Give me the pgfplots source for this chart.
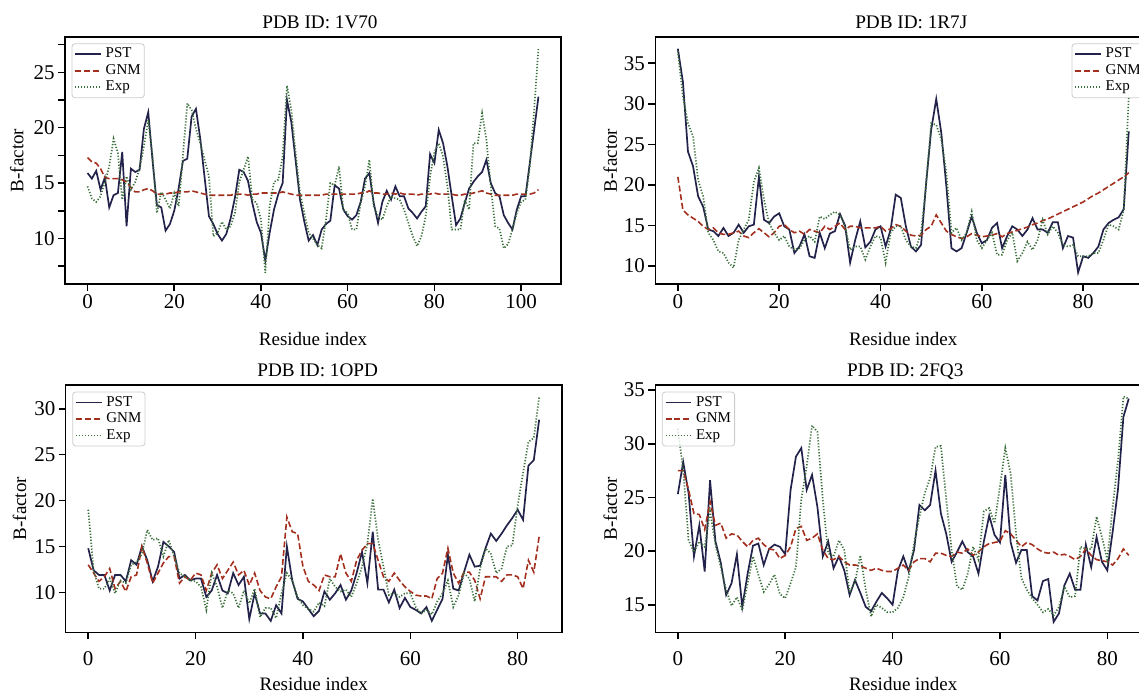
\documentclass[border=0pt]{standalone}
\usepackage{fontspec}
\setmainfont{Liberation Serif}
\usepackage{pgfplots}
\usepackage{pgfplotstable}
\pgfplotsset{compat=1.18}

\definecolor{pstcol}{HTML}{22224A}
\definecolor{gnmcol}{HTML}{A3301F}
\definecolor{expcol}{HTML}{3A6E3A}

% residue, PST, GNM, Exp
\pgfplotstableread{
i pst gnm exp
0 15.9 17.3 14.7
1 15.4 16.9 13.6
2 16.1 16.8 13.3
3 14.4 16.3 13.8
4 15.5 15.5 15.1
5 12.8 15.4 16.5
6 13.9 15.4 19.0
7 14.1 15.4 17.7
8 17.8 15.3 13.5
9 11.1 15.1 15.6
10 16.3 14.6 14.4
11 16.0 14.2 15.1
12 16.2 14.2 16.3
13 19.9 14.4 18.3
14 21.4 14.5 20.7
15 17.0 14.3 17.4
16 13.0 14.0 12.3
17 12.8 14.0 14.2
18 10.7 14.0 13.5
19 11.3 14.1 12.7
20 12.5 14.1 14.1
21 14.5 14.2 12.9
22 17.0 14.2 17.4
23 17.2 14.2 22.2
24 21.0 14.3 21.6
25 21.7 14.2 19.9
26 19.0 14.1 18.6
27 15.5 14.0 17.1
28 12.0 13.9 15.6
29 11.3 13.9 10.2
30 10.4 13.9 10.5
31 9.8 13.9 11.5
32 10.4 13.9 10.8
33 11.8 13.9 11.1
34 13.7 14.0 12.3
35 16.2 14.0 15.1
36 16.0 14.0 16.2
37 15.2 13.9 17.4
38 13.2 14.0 13.5
39 11.5 14.0 13.2
40 10.5 14.1 11.7
41 8.0 14.1 6.9
42 10.5 14.1 12.9
43 12.6 14.1 15.1
44 14.0 14.1 15.3
45 15.0 14.2 17.4
46 22.5 14.1 23.8
47 20.5 14.0 21.6
48 17.0 13.9 17.7
49 13.5 13.9 14.1
50 11.5 13.9 12.3
51 9.8 13.9 10.5
52 10.3 13.9 10.0
53 9.4 13.9 9.4
54 10.8 13.9 9.1
55 11.3 14.0 11.7
56 11.6 14.0 15.0
57 14.8 14.0 14.8
58 14.5 14.0 16.5
59 12.6 14.0 12.6
60 12.0 14.0 12.3
61 11.7 14.0 10.8
62 12.1 14.0 10.8
63 13.3 14.1 13.2
64 15.4 14.1 14.7
65 15.9 14.3 17.1
66 13.2 14.1 12.9
67 11.4 14.1 12.0
68 13.3 14.0 11.7
69 14.3 14.0 12.9
70 13.5 14.1 13.8
71 14.7 14.0 13.6
72 13.8 14.1 13.5
73 13.8 14.0 12.6
74 12.7 14.0 11.4
75 12.3 14.0 10.2
76 11.8 13.9 9.3
77 12.4 14.0 10.2
78 12.9 14.0 12.0
79 17.6 14.0 15.6
80 16.8 14.1 17.8
81 19.8 14.0 18.6
82 18.6 14.0 17.4
83 16.5 14.0 14.7
84 13.8 14.0 10.8
85 11.2 13.9 10.8
86 11.8 13.9 10.8
87 13.2 14.0 13.5
88 14.5 14.0 12.6
89 15.1 14.1 18.6
90 15.6 14.2 18.6
91 16.0 14.3 21.3
92 17.1 14.1 18.9
93 15.0 14.0 14.7
94 14.1 13.9 11.1
95 13.8 13.9 10.9
96 12.1 13.9 9.1
97 11.4 13.9 9.5
98 10.8 13.9 10.8
99 12.6 14.0 12.3
100 13.8 14.0 13.3
101 13.8 14.0 13.5
102 16.8 14.0 16.5
103 19.8 14.1 21.6
104 22.8 14.4 27.2
}\tabA

\pgfplotstableread{
i pst gnm exp
0 36.8 21.0 36.5
1 32.7 16.9 30.9
2 24.1 16.3 27.6
3 22.3 15.9 26.0
4 18.6 15.5 20.6
5 17.3 14.9 18.6
6 14.5 14.5 14.1
7 14.3 14.7 13.2
8 13.7 14.1 11.8
9 14.7 13.9 11.6
10 13.7 13.9 10.4
11 14.1 14.1 9.8
12 15.1 14.3 13.2
13 14.1 13.7 14.5
14 14.9 13.5 15.7
15 15.1 14.1 20.4
16 21.0 14.6 22.1
17 15.7 14.1 18.2
18 15.3 13.6 15.3
19 16.1 14.1 14.1
20 16.5 14.9 13.2
21 14.9 15.1 13.7
22 14.5 14.5 12.4
23 11.6 14.1 12.0
24 12.4 14.3 12.2
25 13.9 13.9 13.2
26 11.2 14.5 13.7
27 11.0 14.3 13.0
28 14.1 14.1 16.1
29 12.2 14.9 15.8
30 14.0 14.5 16.3
31 14.3 14.9 16.7
32 16.4 15.3 16.3
33 15.0 14.5 14.9
34 10.4 14.9 12.0
35 13.2 14.9 12.4
36 15.5 14.7 12.4
37 12.3 14.7 10.8
38 13.0 14.7 12.4
39 14.5 14.7 13.7
40 14.9 14.9 13.5
41 12.4 14.3 10.4
42 14.5 14.6 14.1
43 18.8 15.1 14.9
44 18.4 14.9 14.9
45 14.9 14.3 13.2
46 12.4 13.8 12.4
47 11.8 13.7 12.2
48 12.6 13.8 14.1
49 20.2 14.5 20.0
50 26.8 14.9 27.6
51 30.6 16.3 27.4
52 26.4 15.3 25.6
53 19.8 14.3 21.5
54 12.2 13.9 14.1
55 11.8 13.6 14.7
56 12.2 13.4 13.2
57 14.1 13.6 14.1
58 16.1 14.0 16.7
59 14.1 13.8 13.2
60 12.8 13.6 12.2
61 13.2 13.7 13.2
62 14.7 13.8 14.1
63 15.3 14.0 11.4
64 12.2 13.6 11.4
65 13.7 14.0 13.2
66 14.9 14.2 14.1
67 14.5 14.4 10.6
68 13.7 14.6 11.6
69 14.5 14.8 13.0
70 15.9 15.1 12.0
71 14.5 15.3 13.2
72 14.5 15.6 15.7
73 14.1 15.8 13.9
74 15.4 16.1 14.9
75 15.4 16.4 14.1
76 12.2 16.7 12.6
77 13.7 17.0 12.4
78 13.5 17.3 12.6
79 9.2 17.6 11.2
80 11.2 17.9 11.2
81 11.0 18.3 11.2
82 11.6 18.7 11.6
83 12.4 19.0 11.6
84 14.5 19.4 13.2
85 15.3 19.8 15.1
86 15.7 20.2 14.9
87 16.0 20.6 14.5
88 17.0 21.0 16.9
89 26.6 21.5 31.0
}\tabB

\pgfplotstableread{
i pst gnm exp
0 14.8 13.0 19.0
1 12.4 12.1 12.4
2 11.9 11.2 10.4
3 11.9 11.7 10.4
4 10.2 12.6 11.5
5 11.9 10.4 9.9
6 11.9 11.2 11.3
7 11.2 10.1 11.0
8 13.5 11.7 13.0
9 13.0 11.9 13.3
10 15.0 15.0 14.2
11 13.5 13.2 16.8
12 11.2 11.0 15.7
13 12.8 12.1 15.9
14 15.5 13.2 13.9
15 15.0 13.9 15.7
16 14.4 13.9 13.9
17 11.5 11.0 12.1
18 11.9 11.7 11.7
19 11.3 11.3 11.3
20 11.5 12.1 11.2
21 11.5 11.9 10.6
22 9.5 10.2 8.1
23 10.2 12.1 12.1
24 11.9 13.0 10.6
25 10.2 11.5 8.3
26 9.9 12.4 10.2
27 12.1 13.3 9.9
28 10.8 11.9 8.3
29 11.7 12.4 10.2
30 7.1 10.8 8.8
31 9.9 12.1 10.4
32 7.7 10.2 7.3
33 7.7 9.5 8.3
34 6.9 9.3 8.3
35 8.6 10.6 7.2
36 7.7 11.7 9.9
37 15.0 18.2 12.1
38 11.3 16.6 11.3
39 9.3 16.4 9.5
40 9.0 12.8 8.6
41 8.2 11.2 8.2
42 7.4 10.8 7.9
43 8.0 10.2 8.9
44 10.1 11.9 8.5
45 9.2 11.7 11.5
46 9.9 11.7 10.6
47 10.8 14.2 10.1
48 9.2 12.1 10.3
49 10.2 11.2 9.5
50 12.1 13.5 11.0
51 14.4 14.6 12.8
52 11.0 15.3 15.3
53 16.6 15.3 20.2
54 10.3 13.5 15.7
55 10.3 11.7 12.8
56 8.9 11.2 9.7
57 10.3 12.1 9.9
58 8.3 11.3 9.5
59 9.4 10.6 9.9
60 8.4 10.1 9.9
61 8.1 9.7 8.4
62 7.7 9.6 7.7
63 8.4 9.6 8.1
64 6.9 9.3 7.6
65 8.1 11.5 9.0
66 9.3 12.1 9.9
67 14.1 14.8 11.3
68 10.4 12.1 8.4
69 10.2 11.0 9.7
70 12.2 12.2 12.1
71 14.1 12.2 11.5
72 12.8 11.3 9.0
73 12.9 9.3 12.6
74 14.8 11.7 14.8
75 16.4 11.7 14.2
76 15.6 11.7 12.1
77 16.4 11.2 12.6
78 17.3 11.9 15.0
79 18.1 11.9 15.1
80 19.0 11.7 19.5
81 17.9 10.4 23.0
82 23.8 13.5 26.4
83 24.4 12.2 26.8
84 28.8 16.1 31.3
}\tabC

\pgfplotstableread{
i pst gnm exp
0 25.3 27.5 31.4
1 28.3 27.5 27.5
2 25.4 25.7 21.0
3 19.5 23.5 19.9
4 22.4 23.4 20.9
5 18.1 22.0 20.4
6 26.6 24.6 23.7
7 20.9 22.4 20.6
8 18.9 22.6 18.5
9 15.9 21.2 16.4
10 17.0 21.6 14.9
11 19.7 21.5 15.7
12 14.8 20.9 14.5
13 17.9 20.4 17.0
14 20.5 21.0 19.5
15 20.7 21.2 17.8
16 18.7 20.6 16.2
17 20.2 20.2 16.9
18 20.6 20.1 17.8
19 20.4 19.3 16.0
20 19.7 19.6 15.6
21 25.7 20.4 17.0
22 28.8 22.1 18.5
23 29.6 22.3 24.8
24 25.7 21.0 27.9
25 27.1 21.2 31.7
26 24.1 21.6 31.1
27 19.5 20.1 24.8
28 20.9 19.3 19.8
29 18.4 19.2 19.5
30 19.5 19.5 21.0
31 18.2 19.0 20.1
32 15.9 18.7 16.1
33 17.3 18.7 17.1
34 16.1 18.6 19.6
35 14.8 18.4 16.4
36 14.4 18.2 13.9
37 15.3 18.4 15.0
38 16.1 18.2 14.7
39 15.6 18.1 14.3
40 15.0 18.1 14.3
41 18.2 18.4 14.7
42 19.5 18.7 15.7
43 18.1 18.2 17.6
44 20.1 19.0 20.7
45 24.3 19.3 23.2
46 23.8 19.3 25.4
47 24.3 19.0 26.8
48 27.5 19.8 29.7
49 23.5 19.8 29.8
50 21.6 19.6 24.8
51 19.0 19.5 20.1
52 19.9 19.9 16.7
53 20.9 19.8 16.4
54 19.9 20.2 17.9
55 19.5 19.6 20.4
56 17.9 19.9 19.2
57 20.9 20.4 23.7
58 23.3 20.7 24.0
59 21.5 20.8 22.6
60 20.8 20.9 26.0
61 27.1 21.9 29.6
62 20.8 21.6 27.2
63 18.9 21.0 21.6
64 20.1 20.4 17.5
65 20.1 20.8 16.4
66 15.8 20.6 15.6
67 15.4 20.2 15.0
68 17.2 19.9 14.3
69 17.4 19.8 14.6
70 13.4 19.9 14.0
71 14.2 19.6 14.8
72 16.8 19.7 16.7
73 17.9 19.5 15.7
74 16.4 19.2 15.8
75 16.4 19.5 20.4
76 20.6 20.2 20.2
77 18.5 19.6 20.2
78 21.3 19.2 23.2
79 19.0 19.1 21.3
80 18.2 19.0 19.2
81 21.8 18.7 24.1
82 25.8 19.3 28.5
83 32.5 20.2 34.4
84 34.2 19.6 34.2
}\tabD

\pgfplotsset{
  bpanel/.style={
    scale only axis, width=248pt, height=123.65pt,
    anchor=south west,
    axis line style={line width=0.8pt},
    tick align=outside, xtick pos=bottom, ytick pos=left,
    major tick length=3.5pt, minor tick length=3.5pt,
    every tick/.style={black, line width=0.8pt},
    /pgf/number format/assume math mode=true,
    ticklabel style={font=\fontsize{10.5}{12}\selectfont},
    yticklabel style={inner sep=1.5pt},
    every axis title shift=0pt,
    title style={font=\fontsize{9.6}{11}\selectfont, at={(axis description cs:0.5,1)}, anchor=base, yshift=4.2pt},
    label style={font=\fontsize{9.5}{11}\selectfont},
    xlabel={Residue index}, ylabel={B-factor},
    legend cell align=left,
    legend image code/.code={\draw[##1] (0pt,0pt) -- (12.8pt,0pt);},
    legend style={draw=black!20, rounded corners=1.5pt, fill=white,
      fill opacity=0.8, text opacity=1, draw opacity=1,
      font=\fontsize{7.5}{8}\selectfont, inner xsep=1.2pt, inner ysep=1.2pt,
      column sep=1.4pt, row sep=0pt,
      nodes={inner sep=0.6pt, text height=5.3pt, text depth=1.7pt}},
  },
  toprow/.style={
    xticklabel style={inner sep=0pt, yshift=-1.5pt},
    xlabel style={at={(axis description cs:0.5,0)}, anchor=base, yshift=-30.5pt},
  },
  botrow/.style={
    xticklabel style={inner sep=0pt, yshift=-6pt},
    xlabel style={at={(axis description cs:0.5,0)}, anchor=base, yshift=-29pt},
  },
  legleft/.style={legend style={at={(axis description cs:0,1)}, anchor=north west, xshift=3.3pt, yshift=-3.3pt}},
  legright/.style={legend style={at={(axis description cs:1,1)}, anchor=north east, xshift=-3.3pt, yshift=-3.3pt}},
  pst/.style={pstcol, line width=0.85pt},
  gnm/.style={gnmcol, line width=0.8pt, dash pattern=on 3pt off 1.4pt},
  expp/.style={expcol, line width=0.85pt, dash pattern=on 0.6pt off 0.9pt},
}

\begin{document}
\begin{tikzpicture}

\begin{axis}[bpanel, toprow, legleft,
  at={(32.5pt,204.5pt)},
  xmin=-5.2, xmax=109.2, ymin=5.88, ymax=28.22,
  xtick={0,20,40,60,80,100},
  xticklabels={\raisebox{-3.5pt}{0},20,40,60,80,100},
  ytick={10,15,20,25},
  minor ytick={7.5,12.5,17.5,22.5,27.5},
  title={PDB ID: 1V70}, title style={xshift=3.5pt},
  ylabel style={at={(axis description cs:-0.097,0.5)}, anchor=center}]
\addplot[pst] table[x=i, y=pst] {\tabA};
\addplot[gnm] table[x=i, y=gnm] {\tabA};
\addplot[expp] table[x=i, y=exp] {\tabA};
\legend{PST, GNM, Exp}
\end{axis}

\begin{axis}[bpanel, toprow, legright,
  at={(327.65pt,204.5pt)},
  xmin=-4.45, xmax=93.45, ymin=7.78, ymax=38.28,
  xtick={0,20,40,60,80},
  ytick={10,15,20,25,30,35},
  title={PDB ID: 1R7J}, title style={xshift=4pt},
  ylabel style={at={(axis description cs:-0.091,0.5)}, anchor=center}]
\addplot[pst] table[x=i, y=pst] {\tabB};
\addplot[gnm] table[x=i, y=gnm] {\tabB};
\addplot[expp] table[x=i, y=exp] {\tabB};
\legend{PST, GNM, Exp}
\end{axis}

\begin{axis}[bpanel, botrow, legleft,
  at={(32.85pt,30.35pt)},
  xmin=-4.2, xmax=88.2, ymin=5.65, ymax=32.58,
  xtick={0,20,40,60,80},
  ytick={10,15,20,25,30},
  title={PDB ID: 1OPD}, title style={xshift=2pt},
  ylabel style={at={(axis description cs:-0.093,0.5)}, anchor=center}]
\addplot[pst] table[x=i, y=pst] {\tabC};
\addplot[gnm] table[x=i, y=gnm] {\tabC};
\addplot[expp] table[x=i, y=exp] {\tabC};
\legend{PST, GNM, Exp}
\end{axis}

\begin{axis}[bpanel, botrow, legleft,
  at={(327.65pt,30.35pt)},
  xmin=-4.2, xmax=88.2, ymin=12.43, ymax=35.47,
  xtick={0,20,40,60,80},
  ytick={15,20,25,30,35},
  title={PDB ID: 2FQ3}, title style={xshift=1pt},
  ylabel style={at={(axis description cs:-0.091,0.5)}, anchor=center}]
\addplot[pst] table[x=i, y=pst] {\tabD};
\addplot[gnm] table[x=i, y=gnm] {\tabD};
\addplot[expp] table[x=i, y=exp] {\tabD};
\legend{PST, GNM, Exp}
\end{axis}

\pgfresetboundingbox
\useasboundingbox (0,0) rectangle (569.5pt,346.5pt);
\end{tikzpicture}
\end{document}
